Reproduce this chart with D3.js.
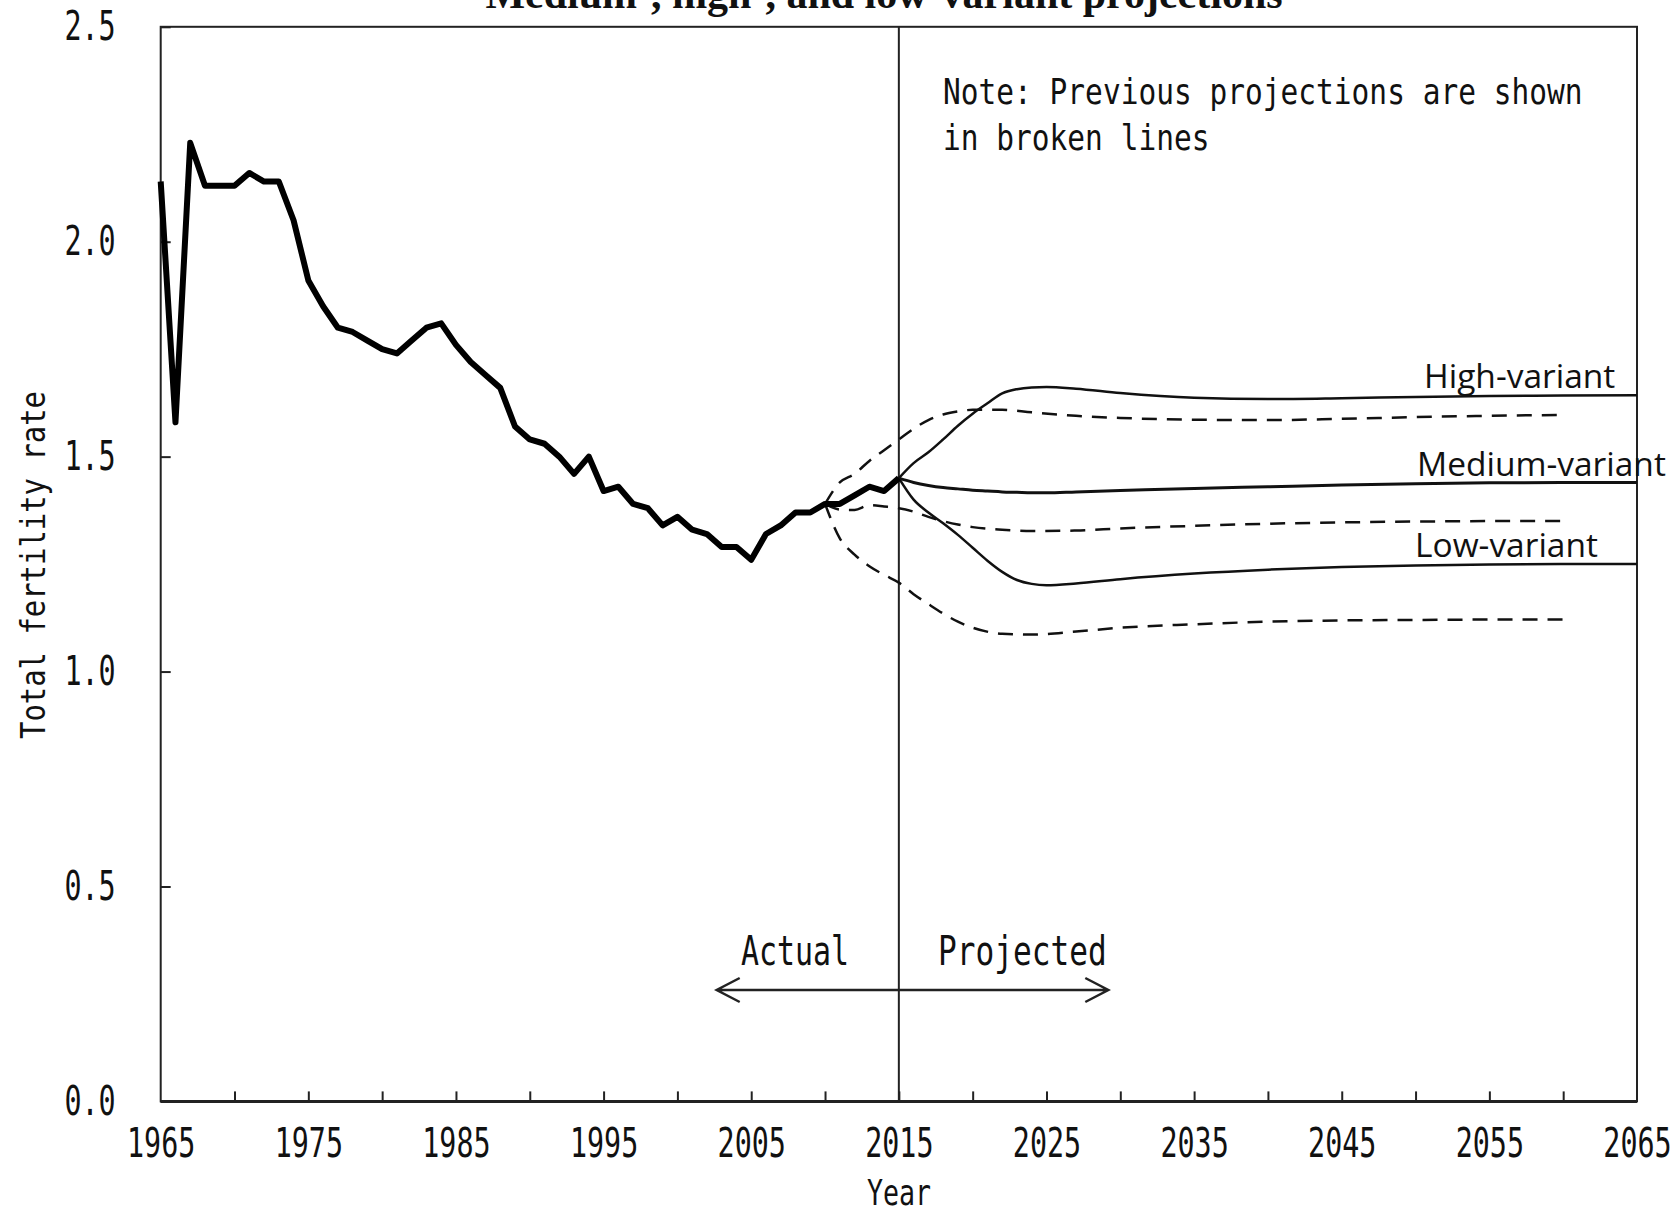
<!DOCTYPE html>
<html>
<head>
<meta charset="utf-8">
<script src="https://cdn.jsdelivr.net/npm/d3@7"></script>
<style>
  body { margin: 0; background: #fff; }
  svg { display: block; }
</style>
</head>
<body>
<svg id="chart" width="1680" height="1208"></svg>
<script>
// actual total fertility rate, 1965-2015
const actualYears = d3.range(1965, 2016);
const actualTfr = [
  2.14, 1.58, 2.23, 2.13, 2.13, 2.13, 2.16, 2.14, 2.14, 2.05,
  1.91, 1.85, 1.80, 1.79, 1.77, 1.75, 1.74, 1.77, 1.80, 1.81,
  1.76, 1.72, 1.69, 1.66, 1.57, 1.54, 1.53, 1.50, 1.46, 1.50,
  1.42, 1.43, 1.39, 1.38, 1.34, 1.36, 1.33, 1.32, 1.29, 1.29,
  1.26, 1.32, 1.34, 1.37, 1.37, 1.39, 1.39, 1.41, 1.43, 1.42,
  1.45
];

// current projections (solid)
const projYears = [2015, 2016, 2017, 2018, 2019, 2020, 2021, 2022, 2023, 2024, 2025, 2027, 2030, 2035, 2040, 2045, 2050, 2055, 2060, 2065];
const highVariant = [1.45, 1.485, 1.51, 1.54, 1.572, 1.60, 1.624, 1.647, 1.657, 1.661, 1.662, 1.658, 1.648, 1.637, 1.634, 1.636, 1.639, 1.641, 1.642, 1.643];
const mediumVariant = [1.45, 1.44, 1.433, 1.428, 1.425, 1.422, 1.42, 1.418, 1.417, 1.416, 1.416, 1.418, 1.421, 1.426, 1.43, 1.434, 1.437, 1.439, 1.44, 1.44];
const lowVariant = [1.45, 1.40, 1.37, 1.345, 1.318, 1.288, 1.258, 1.232, 1.213, 1.204, 1.201, 1.205, 1.215, 1.228, 1.237, 1.243, 1.247, 1.249, 1.25, 1.25];

// previous projections (broken lines)
const prevYears = [2010, 2011, 2012, 2013, 2014, 2015, 2016, 2017, 2018, 2019, 2020, 2022, 2024, 2027, 2030, 2035, 2040, 2045, 2050, 2055, 2060];
const prevHigh = [1.39, 1.44, 1.46, 1.49, 1.515, 1.54, 1.565, 1.585, 1.598, 1.605, 1.609, 1.609, 1.603, 1.595, 1.59, 1.586, 1.585, 1.588, 1.592, 1.595, 1.597];
const prevMedium = [1.39, 1.377, 1.376, 1.387, 1.384, 1.38, 1.372, 1.36, 1.35, 1.342, 1.336, 1.33, 1.327, 1.328, 1.333, 1.339, 1.344, 1.347, 1.349, 1.35, 1.35];
const prevLow = [1.39, 1.31, 1.272, 1.245, 1.225, 1.207, 1.18, 1.157, 1.135, 1.116, 1.102, 1.088, 1.086, 1.093, 1.102, 1.11, 1.116, 1.119, 1.12, 1.121, 1.121];

const xTickLabels = d3.range(1965, 2066, 10);
const xMinorTicks = d3.range(1970, 2065, 5);
const yTicks = [0, 0.5, 1.0, 1.5, 2.0, 2.5];
const variantLabels = ["High-variant", "Medium-variant", "Low-variant"];

const svg = d3.select('#chart');
const margin = { top: 26.8, right: 43, bottom: 106.6, left: 160.7 };
const W = 1680, H = 1208;
const mono = '"DejaVu Sans Mono", monospace';

const x = d3.scaleLinear().domain([1965, 2065]).range([margin.left, W - margin.right]);
const y = d3.scaleLinear().domain([0, 2.5]).range([H - margin.bottom, margin.top]);

// title, clipped at the top of the picture as in the source
svg.append('text')
  .attr('x', 884).attr('y', 8)
  .attr('text-anchor', 'middle')
  .attr('font-family', '"Liberation Serif", serif')
  .attr('font-weight', 'bold')
  .attr('font-size', 42)
  .attr('fill', '#111')
  .text('Medium-, high-, and low-variant projections');

// y axis
const yAxis = svg.append('g')
  .attr('transform', `translate(${margin.left},0)`)
  .call(d3.axisLeft(y).tickValues(yTicks).tickSize(-10).tickPadding(45).tickFormat(d3.format('.1f')));
yAxis.select('.domain').remove();
yAxis.selectAll('line').attr('stroke', '#222').attr('stroke-width', 2);
yAxis.selectAll('text')
  .attr('font-family', mono).attr('font-size', 40).attr('fill', '#111')
  .attr('x', -45 / 0.71)
  .attr('transform', 'scale(0.71,1)');

// x axis: minor inward ticks, then labels
const xMinor = svg.append('g')
  .attr('transform', `translate(0,${y(0)})`)
  .call(d3.axisBottom(x).tickValues(xMinorTicks).tickSize(-10).tickFormat(''));
xMinor.select('.domain').remove();
xMinor.selectAll('line').attr('stroke', '#222').attr('stroke-width', 2);

const xAxis = svg.append('g')
  .attr('transform', `translate(0,${y(0)})`)
  .call(d3.axisBottom(x).tickValues(xTickLabels).tickSize(0).tickPadding(27).tickFormat(d3.format('d')));
xAxis.select('.domain').remove();
xAxis.selectAll('text')
  .attr('font-family', mono).attr('font-size', 40).attr('fill', '#111')
  .attr('transform', 'scale(0.71,1)');

// frame
svg.append('rect')
  .attr('x', x(1965)).attr('y', y(2.5))
  .attr('width', x(2065) - x(1965)).attr('height', y(0) - y(2.5))
  .attr('fill', 'none').attr('stroke', '#222').attr('stroke-width', 2);
svg.append('line')
  .attr('x1', x(1965)).attr('x2', x(2065)).attr('y1', y(0)).attr('y2', y(0))
  .attr('stroke', '#222').attr('stroke-width', 3);

// axis titles
svg.append('text')
  .attr('transform', `translate(899,1205) scale(0.74,1)`)
  .attr('text-anchor', 'middle')
  .attr('font-family', mono).attr('font-size', 36).attr('fill', '#111')
  .text('Year');
svg.append('text')
  .attr('transform', `translate(45,565) rotate(-90) scale(0.876,1)`)
  .attr('text-anchor', 'middle')
  .attr('font-family', mono).attr('font-size', 33).attr('fill', '#111')
  .text('Total fertility rate');

// 2015 divider
svg.append('line')
  .attr('x1', x(2015)).attr('x2', x(2015)).attr('y1', y(2.5)).attr('y2', y(0))
  .attr('stroke', '#222').attr('stroke-width', 2);

const smooth = d3.line().x(d => x(d[0])).y(d => y(d[1])).curve(d3.curveMonotoneX);
const straight = d3.line().x(d => x(d[0])).y(d => y(d[1]));

// previous projections (dashed)
[prevHigh, prevMedium, prevLow].forEach(vals => {
  svg.append('path')
    .datum(prevYears.map((yr, i) => [yr, vals[i]]))
    .attr('fill', 'none').attr('stroke', '#111').attr('stroke-width', 2.5)
    .attr('stroke-dasharray', '15,10')
    .attr('d', smooth);
});

// current projections (solid)
[highVariant, mediumVariant, lowVariant].forEach((vals, k) => {
  svg.append('path')
    .datum(projYears.map((yr, i) => [yr, vals[i]]))
    .attr('fill', 'none').attr('stroke', '#111')
    .attr('stroke-width', k === 1 ? 3 : 2.5)
    .attr('d', smooth);
});

// actual
svg.append('path')
  .datum(actualYears.map((yr, i) => [yr, actualTfr[i]]))
  .attr('fill', 'none').attr('stroke', '#000').attr('stroke-width', 6)
  .attr('stroke-linejoin', 'round')
  .attr('d', straight);

// variant labels
const labelPos = [[1424, 388], [1417, 476], [1415, 557]];
svg.selectAll('.variant')
  .data(variantLabels)
  .join('text')
  .attr('class', 'variant')
  .attr('x', (d, i) => labelPos[i][0]).attr('y', (d, i) => labelPos[i][1])
  .attr('font-family', '"Open Sans", Lato, sans-serif')
  .attr('font-size', 33.5).attr('fill', '#111')
  .text(d => d);

// note
const note = svg.append('text')
  .attr('font-family', mono).attr('font-size', 36).attr('fill', '#111')
  .attr('transform', 'translate(943,0) scale(0.82,1)');
note.append('tspan').attr('x', 0).attr('y', 104).text('Note: Previous projections are shown');
note.append('tspan').attr('x', 0).attr('y', 150).text('in broken lines');

// actual / projected arrow
const arrowY = 990;
const ax1 = 716.7, ax2 = 1108.3;
svg.append('path')
  .attr('d', `M${ax1 + 23},${arrowY - 12} L${ax1},${arrowY} L${ax1 + 23},${arrowY + 12} M${ax1},${arrowY} L${ax2},${arrowY} M${ax2 - 23},${arrowY - 12} L${ax2},${arrowY} L${ax2 - 23},${arrowY + 12}`)
  .attr('fill', 'none').attr('stroke', '#222').attr('stroke-width', 2.5);

svg.append('text')
  .attr('transform', 'translate(741,965) scale(0.73,1)')
  .attr('font-family', mono).attr('font-size', 41).attr('fill', '#111')
  .text('Actual');
svg.append('text')
  .attr('transform', 'translate(938,965) scale(0.76,1)')
  .attr('font-family', mono).attr('font-size', 41).attr('fill', '#111')
  .text('Projected');
</script>
</body>
</html>
